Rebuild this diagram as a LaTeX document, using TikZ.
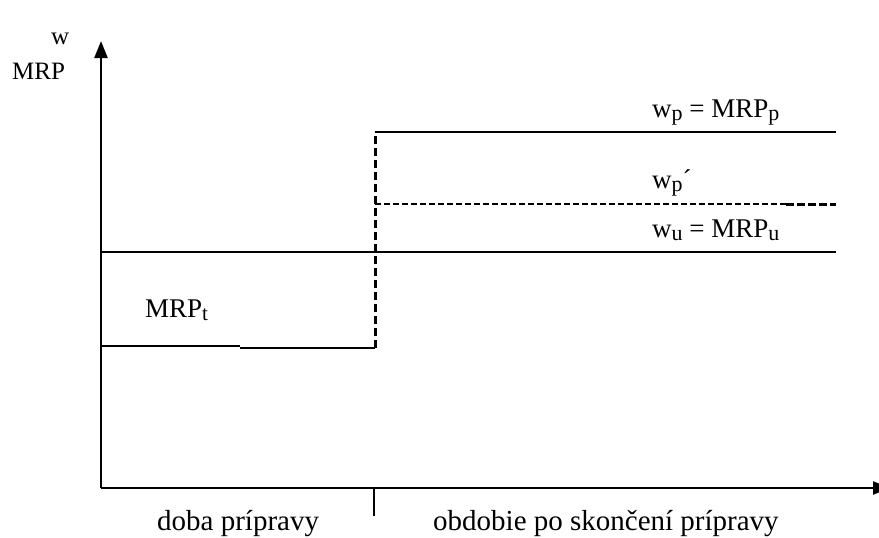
\documentclass[tikz,border=0pt]{standalone}
\usepackage{fontspec}
\setmainfont{Liberation Serif}
\usetikzlibrary{arrows.meta}
% lowered, slightly smaller index letter; optional argument is its size in pt
\newcommand{\lowsub}[2][22]{\raisebox{-0.14em}{\fontsize{#1}{#1}\selectfont #2}}
\begin{document}
\begin{tikzpicture}[x=1pt,y=-1pt,
  axisline/.style={line width=2.4pt,-{Triangle[width=13pt,length=17pt]}},
  levelline/.style={line width=1.4pt},
  jumpline/.style={line width=3pt,dash pattern=on 8pt off 4pt},
  thindash/.style={line width=1.2pt,dash pattern=on 6pt off 3pt},
  thickdash/.style={line width=3pt,dash pattern=on 8pt off 3pt},
  smalllbl/.style={inner sep=0pt,anchor=base west,font=\fontsize{25}{27}\selectfont},
  lbl/.style={inner sep=0pt,anchor=base west,font=\fontsize{27}{29}\selectfont},
  biglbl/.style={inner sep=0pt,anchor=base west,font=\fontsize{29}{31}\selectfont}]
\useasboundingbox (0,0) rectangle (879,538);
% axes
\coordinate (O) at (101,488);
\coordinate (ytop) at (101,41);
\coordinate (xend) at (890,488);
\draw[axisline] (O) -- (ytop);
\draw[axisline] (O) -- (xend);
% tick separating the two periods
\coordinate (tk0) at (374,488);
\coordinate (tk1) at (374,516);
\draw[line width=1.2pt] (tk0) -- (tk1);
% wage levels
\coordinate (t0) at (101,346);
\coordinate (t1) at (240,346);
\coordinate (t2) at (240,348);
\coordinate (t3) at (375,348);
\coordinate (p0) at (375,132);
\coordinate (p1) at (836,132);
\coordinate (q0) at (375,204);
\coordinate (q1) at (786,204);
\coordinate (q2) at (836,204);
\coordinate (u0) at (101,252);
\coordinate (u1) at (836,252);
\draw[levelline] (t0) -- (t1);
\draw[levelline] (t2) -- (t3);
\draw[levelline] (p0) -- (p1);
\draw[levelline] (u0) -- (u1);
\draw[thindash] (q0) -- (q1);
\draw[thickdash] (q1) -- (q2);
\draw[jumpline] (t3) -- (p0);
% labels
\node[smalllbl] (lw) at (51,45) {w};
\node[smalllbl] (lmrp) at (12,79) {MRP};
\node[lbl] (lt) at (145,317) {MRP\lowsub[21]{t}};
\node[lbl] (lp) at (652,117) {w\lowsub{p} = MRP\lowsub{p}};
\node[lbl] (lq) at (652,188) {w\lowsub{p}´};
\node[lbl] (lu) at (652,237) {w\lowsub{u} = MRP\lowsub{u}};
\node[biglbl] (ld) at (157,530) {doba prípravy};
\node[biglbl] (lo) at (433,530) {obdobie po skončení prípravy};
\end{tikzpicture}
\end{document}
